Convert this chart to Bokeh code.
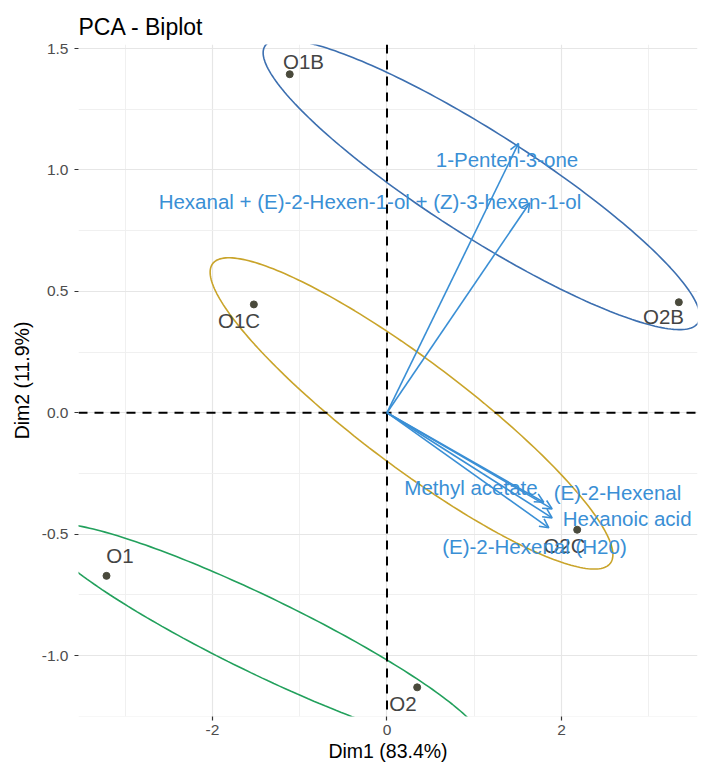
import numpy as np
from bokeh.plotting import figure
from bokeh.models import (ColumnDataSource, Range1d, FixedTicker, PrintfTickFormatter,
                          Span, Arrow, OpenHead, PolyAnnotation)
from bokeh.core.properties import value
from bokeh.embed import file_html
from bokeh.resources import INLINE

# --- individuals (scores) ---
ind_names = ["O1B", "O2B", "O1C", "O2C", "O1", "O2"]
ind_x = [-1.115, 3.345, -1.526, 2.180, -3.215, 0.346]
ind_y = [1.394, 0.455, 0.446, -0.482, -0.672, -1.131]
ind_lab_x = [-0.957, 3.169, -1.696, 2.034, -3.060, 0.183]
ind_lab_y = [1.446, 0.396, 0.380, -0.547, -0.588, -1.198]

# --- variables (loadings, scaled) ---
var_names = ["1-Penten-3-one",
             "Hexanal + (E)-2-Hexen-1-ol + (Z)-3-hexen-1-ol",
             "Methyl acetate", "(E)-2-Hexenal", "Hexanoic acid",
             "(E)-2-Hexenal (H20)"]
var_x = [1.507, 1.635, 1.797, 1.893, 1.893, 1.855]
var_y = [1.109, 0.864, -0.369, -0.396, -0.433, -0.474]
var_lab_x = [1.375, -0.195, 0.963, 2.642, 2.753, 1.690]
var_lab_y = [1.041, 0.870, -0.306, -0.327, -0.434, -0.549]

# --- group ellipses: centre, semi-major vector, semi-minor vector (data units) ---
ell_group = ["B", "C", "none"]
ell_cx = [1.083, 0.281, -1.438]
ell_cy = [0.940, -0.003, -0.918]
ell_major_dx = [2.482, 2.279, 2.522]
ell_major_dy = [-0.570, -0.617, -0.440]
ell_minor_dx = [-0.321, -0.366, -0.190]
ell_minor_dy = [-0.180, -0.174, -0.141]
ell_colors = ["#3C6FB0", "#C9A42A", "#22A05C"]

x_ticks = [-2, 0, 2]
x_minor = [-3, -1, 1, 3]
y_ticks = [-1.0, -0.5, 0.0, 0.5, 1.0, 1.5]
y_minor = [-1.25, -0.75, -0.25, 0.25, 0.75, 1.25]

FONT = "Liberation Sans"
VAR_COL = "#3A8FD5"

p = figure(width=702, height=765,
           x_range=Range1d(-3.536, 3.559), y_range=Range1d(-1.2512, 1.5165),
           output_backend="svg", toolbar_location=None,
           min_border_left=78, min_border_right=5, min_border_top=44, min_border_bottom=49,
           title="PCA - Biplot")
p.outline_line_color = None
p.background_fill_color = "white"
p.border_fill_color = "white"

p.title.text_font = FONT
p.title.text_font_size = "23px"
p.title.text_font_style = "normal"
p.title.text_color = "black"
p.title.align = "left"
p.title.standoff = 10

p.xaxis.ticker = FixedTicker(ticks=x_ticks, minor_ticks=x_minor)
p.yaxis.ticker = FixedTicker(ticks=y_ticks, minor_ticks=y_minor)
p.xaxis.formatter = PrintfTickFormatter(format="%d")
p.yaxis.formatter = PrintfTickFormatter(format="%.1f")
p.xaxis.axis_label = "Dim1 (83.4%)"
p.yaxis.axis_label = "Dim2 (11.9%)"
for ax in (p.xaxis, p.yaxis):
    ax.axis_line_color = None
    ax.major_tick_line_color = "#333333"
    ax.major_tick_line_width = 1.2
    ax.major_tick_out = 4
    ax.major_tick_in = 0
    ax.minor_tick_line_color = None
    ax.major_label_text_font = FONT
    ax.major_label_text_font_size = "15.5px"
    ax.major_label_text_color = "#4D4D4D"
    ax.axis_label_text_font = FONT
    ax.axis_label_text_font_size = "19.5px"
    ax.axis_label_text_font_style = "normal"
    ax.axis_label_text_color = "black"
p.xaxis.major_label_standoff = 4
p.xaxis.axis_label_standoff = 2
p.yaxis.major_label_standoff = 6
p.yaxis.axis_label_standoff = 6

for g in (p.xgrid, p.ygrid):
    g.grid_line_color = "#E6E6E6"
    g.grid_line_width = 1.2
    g.minor_grid_line_color = "#EEEEEE"
    g.minor_grid_line_width = 0.9

# ellipses
t = np.linspace(0, 2 * np.pi, 241)
for i in range(len(ell_group)):
    ex = ell_cx[i] + ell_major_dx[i] * np.cos(t) + ell_minor_dx[i] * np.sin(t)
    ey = ell_cy[i] + ell_major_dy[i] * np.cos(t) + ell_minor_dy[i] * np.sin(t)
    poly = PolyAnnotation(xs=list(ex), ys=list(ey), xs_units="data", ys_units="data",
                          fill_color=None, fill_alpha=0, line_color=ell_colors[i],
                          line_alpha=1.0, line_width=1.6, level="underlay")
    p.add_layout(poly)

# reference lines
p.add_layout(Span(location=0, dimension="height", line_color="black",
                  line_width=2, line_dash="9 7"))
p.add_layout(Span(location=0, dimension="width", line_color="black",
                  line_width=2, line_dash="9 7"))

# individuals
ind_src = ColumnDataSource(dict(x=ind_x, y=ind_y, lx=ind_lab_x, ly=ind_lab_y, name=ind_names))
p.scatter("x", "y", source=ind_src, size=7, color="#4A4A3C")
p.text("lx", "ly", text="name", source=ind_src, text_font=value(FONT),
       text_font_size="20.5px", text_align="center", text_baseline="middle",
       text_color="#444444")

# variables
var_src = ColumnDataSource(dict(x0=[0.0] * len(var_x), y0=[0.0] * len(var_y),
                                x1=var_x, y1=var_y, lx=var_lab_x, ly=var_lab_y,
                                name=var_names))
p.add_layout(Arrow(x_start="x0", y_start="y0", x_end="x1", y_end="y1", source=var_src,
                   line_color=VAR_COL, line_width=1.6,
                   end=OpenHead(size=9, line_color=VAR_COL, line_width=1.6)))
p.text("lx", "ly", text="name", source=var_src, text_font=value(FONT),
       text_font_size="20.5px", text_align="center", text_baseline="middle",
       text_color=VAR_COL)

open("out.html", "w").write(file_html(p, INLINE))
